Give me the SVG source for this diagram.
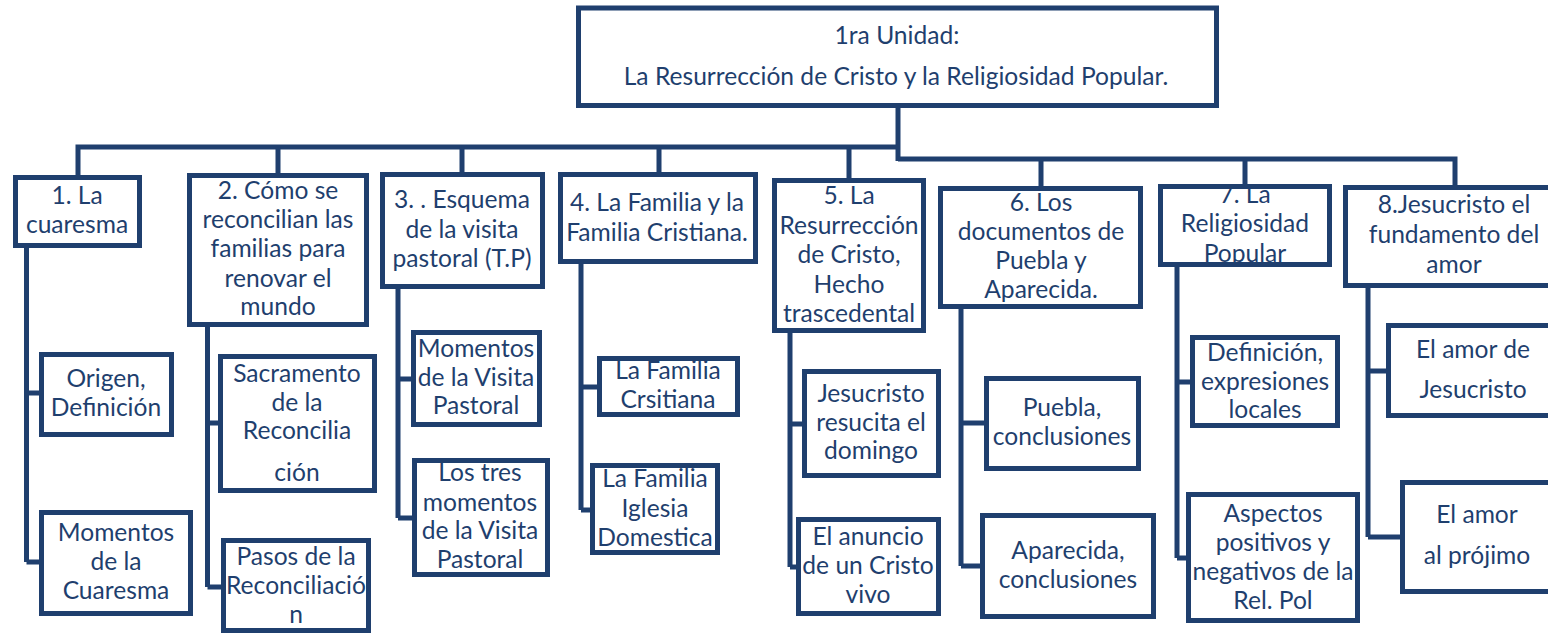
<svg xmlns="http://www.w3.org/2000/svg" width="1548" height="634" viewBox="0 0 1548 634">
<style>
.b{fill:#fff;stroke:#1F3F6E;stroke-width:5}
.f{fill:none;stroke:#1F3F6E;stroke-width:5}
.c{fill:none;stroke:#1F3F6E;stroke-width:5}
text{font-family:Lato,"Open Sans",sans-serif;font-size:24.6px;fill:#1F3F6E;text-anchor:middle}
</style>
<rect width="1548" height="634" fill="#fff"/>
<g id="connectors">
<path class="c" d="M898 106V161" stroke-width="6"/>
<path class="c" d="M78 176V147H898"/>
<path class="c" d="M278 147V174M462 147V173M659 147V173M849 147V179"/>
<path class="c" d="M898 159H1455V186M1041 159V187M1245 159V185"/>
<path class="c" d="M26.5 248V562M26.5 393H42M26.5 562H42"/>
<path class="c" d="M207.5 327V587M207.5 423H219M207.5 587H222"/>
<path class="c" d="M398 289V518M398 379H412M398 518H413"/>
<path class="c" d="M581 264V510M581 387H598M581 510H591"/>
<path class="c" d="M790 333V567M790 424H803M790 567H797"/>
<path class="c" d="M961 309V566M961 423H985M961 566H981"/>
<path class="c" d="M1177 267V558M1177 382H1191M1177 558H1187"/>
<path class="c" d="M1368 288V537M1368 371H1387M1368 537H1401"/>
</g>
<g id="root">
<rect class="b" x="578.5" y="8" width="638" height="97.5"/>
<text x="897" y="44">1ra Unidad:</text>
<text x="896" y="85">La Resurrección de Cristo y la Religiosidad Popular.</text>
</g>
<g id="n1">
<rect class="b" x="15.5" y="177.5" width="124" height="68"/>
<text x="77" y="204">1. La</text>
<text x="77" y="233">cuaresma</text>
</g>
<g id="n2">
<rect class="b" x="189.5" y="175.5" width="177" height="149"/>
<text x="278" y="199">2. Cómo se</text>
<text x="278" y="228">reconcilian las</text>
<text x="278" y="257">familias para</text>
<text x="278" y="287">renovar el</text>
<text x="278" y="315">mundo</text>
</g>
<g id="n3">
<rect class="b" x="382.5" y="174.5" width="160" height="112"/>
<text x="462" y="208">3. . Esquema</text>
<text x="462" y="238">de la visita</text>
<text x="462" y="267">pastoral (T.P)</text>
</g>
<g id="n4">
<rect class="b" x="560.5" y="174.5" width="195" height="87"/>
<text x="657" y="211">4. La Familia y la</text>
<text x="657" y="241">Familia Cristiana.</text>
</g>
<g id="n5">
<rect class="b" x="774.5" y="180.5" width="149" height="150"/>
<text x="849" y="204">5. La</text>
<text x="849" y="234">Resurrección</text>
<text x="849" y="263">de Cristo,</text>
<text x="849" y="293">Hecho</text>
<text x="849" y="322">trascedental</text>
</g>
<g id="n6">
<rect class="b" x="940.5" y="188.5" width="200" height="118"/>
<text x="1041" y="211">6. Los</text>
<text x="1041" y="240">documentos de</text>
<text x="1041" y="269">Puebla y</text>
<text x="1041" y="298">Aparecida.</text>
</g>
<g id="n7">
<rect x="1160.5" y="186.5" width="169" height="78" fill="#fff"/>
<text x="1245" y="203">7. La</text>
<text x="1245" y="232">Religiosidad</text>
<text x="1245" y="262">Popular</text>
<rect class="f" x="1160.5" y="186.5" width="169" height="78"/>
</g>
<g id="n8">
<rect class="b" x="1345.5" y="187.5" width="217" height="98"/>
<text x="1454" y="213">8.Jesucristo el</text>
<text x="1454" y="243">fundamento del</text>
<text x="1454" y="273">amor</text>
</g>
<g id="n1a">
<rect class="b" x="41.5" y="354.5" width="130" height="80"/>
<text x="106" y="387">Origen,</text>
<text x="106" y="416">Definición</text>
</g>
<g id="n1b">
<rect class="b" x="41.5" y="512.5" width="149" height="101"/>
<text x="116" y="541">Momentos</text>
<text x="116" y="570">de la</text>
<text x="116" y="599">Cuaresma</text>
</g>
<g id="n2a">
<rect class="b" x="220.5" y="356.5" width="154" height="134"/>
<text x="297" y="382">Sacramento</text>
<text x="297" y="411">de la</text>
<text x="297" y="439">Reconcilia</text>
<text x="297" y="481">ción</text>
</g>
<g id="n2b">
<rect class="b" x="223.5" y="540.5" width="145" height="90"/>
<text x="296" y="565">Pasos de la</text>
<text x="296" y="594">Reconciliació</text>
<text x="296" y="623">n</text>
</g>
<g id="n3a">
<rect class="b" x="413.5" y="332.5" width="126" height="92"/>
<text x="476" y="357">Momentos</text>
<text x="476" y="386">de la Visita</text>
<text x="476" y="414">Pastoral</text>
</g>
<g id="n3b">
<rect class="b" x="414.5" y="460.5" width="133" height="114"/>
<text x="480" y="481">Los tres</text>
<text x="480" y="511">momentos</text>
<text x="480" y="539">de la Visita</text>
<text x="480" y="568">Pastoral</text>
</g>
<g id="n4a">
<rect class="b" x="599.5" y="358.5" width="138" height="56"/>
<text x="668" y="379">La Familia</text>
<text x="668" y="408">Crsitiana</text>
</g>
<g id="n4b">
<rect class="b" x="592.5" y="465.5" width="125" height="87"/>
<text x="655" y="487">La Familia</text>
<text x="655" y="517">Iglesia</text>
<text x="655" y="546">Domestica</text>
</g>
<g id="n5a">
<rect class="b" x="804.5" y="371.5" width="134" height="104"/>
<text x="871" y="402">Jesucristo</text>
<text x="871" y="431">resucita el</text>
<text x="871" y="459">domingo</text>
</g>
<g id="n5b">
<rect class="b" x="798.5" y="519.5" width="140" height="94"/>
<text x="868" y="545">El anuncio</text>
<text x="868" y="574">de un Cristo</text>
<text x="868" y="603">vivo</text>
</g>
<g id="n6a">
<rect class="b" x="986.5" y="378.5" width="152" height="90"/>
<text x="1062" y="416">Puebla,</text>
<text x="1062" y="445">conclusiones</text>
</g>
<g id="n6b">
<rect class="b" x="982.5" y="515.5" width="171" height="101"/>
<text x="1068" y="559">Aparecida,</text>
<text x="1068" y="588">conclusiones</text>
</g>
<g id="n7a">
<rect class="b" x="1192.5" y="337.5" width="145" height="88"/>
<text x="1265" y="361">Definición,</text>
<text x="1265" y="390">expresiones</text>
<text x="1265" y="418">locales</text>
</g>
<g id="n7b">
<rect class="b" x="1188.5" y="494.5" width="169" height="126"/>
<text x="1273" y="522">Aspectos</text>
<text x="1273" y="551">positivos y</text>
<text x="1273" y="580">negativos de la</text>
<text x="1273" y="609">Rel. Pol</text>
</g>
<g id="n8a">
<rect class="b" x="1388.5" y="325.5" width="180" height="90"/>
<text x="1473" y="358">El amor de</text>
<text x="1473" y="398">Jesucristo</text>
</g>
<g id="n8b">
<rect class="b" x="1402.5" y="482.5" width="170" height="109"/>
<text x="1477" y="523">El amor</text>
<text x="1477" y="564">al prójimo</text>
</g>
</svg>
